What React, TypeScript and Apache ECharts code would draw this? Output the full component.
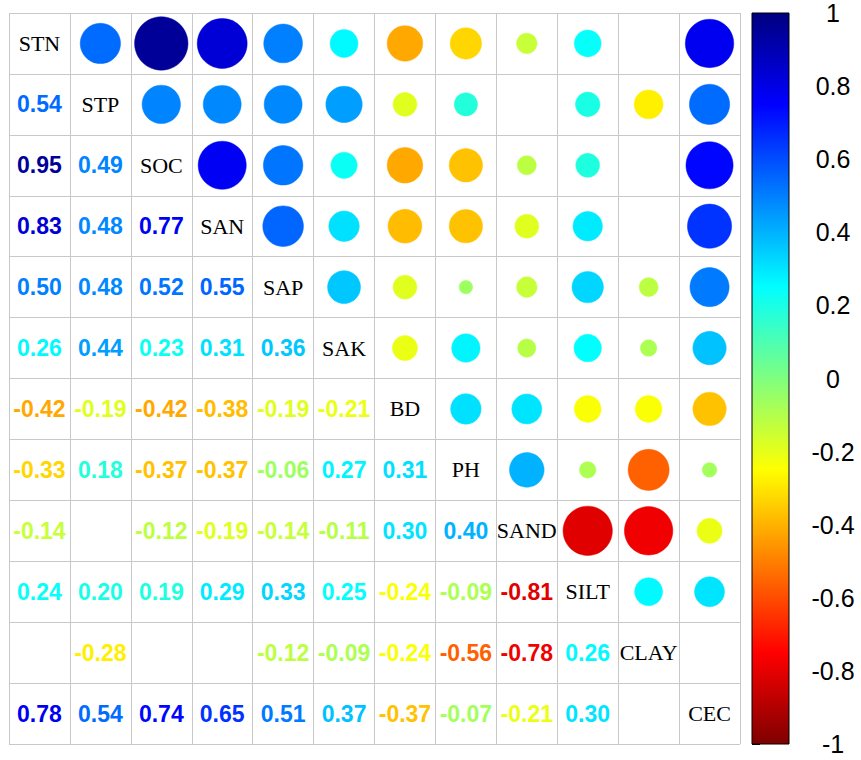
import React, { useEffect, useRef } from 'react';
import * as echarts from 'echarts';

const variables = ['STN', 'STP', 'SOC', 'SAN', 'SAP', 'SAK', 'BD', 'PH', 'SAND', 'SILT', 'CLAY', 'CEC'];

// lower-triangle correlations (row variable vs earlier variables); null = blank (not significant)
const rowSTN: (number | null)[] = [];
const rowSTP: (number | null)[] = [0.54];
const rowSOC: (number | null)[] = [0.95, 0.49];
const rowSAN: (number | null)[] = [0.83, 0.48, 0.77];
const rowSAP: (number | null)[] = [0.5, 0.48, 0.52, 0.55];
const rowSAK: (number | null)[] = [0.26, 0.44, 0.23, 0.31, 0.36];
const rowBD: (number | null)[] = [-0.42, -0.19, -0.42, -0.38, -0.19, -0.21];
const rowPH: (number | null)[] = [-0.33, 0.18, -0.37, -0.37, -0.06, 0.27, 0.31];
const rowSAND: (number | null)[] = [-0.14, null, -0.12, -0.19, -0.14, -0.11, 0.3, 0.4];
const rowSILT: (number | null)[] = [0.24, 0.2, 0.19, 0.29, 0.33, 0.25, -0.24, -0.09, -0.81];
const rowCLAY: (number | null)[] = [null, -0.28, null, null, -0.12, -0.09, -0.24, -0.56, -0.78, 0.26];
const rowCEC: (number | null)[] = [0.78, 0.54, 0.74, 0.65, 0.51, 0.37, -0.37, -0.07, -0.21, 0.3, null];

const lowerRows = [rowSTN, rowSTP, rowSOC, rowSAN, rowSAP, rowSAK, rowBD, rowPH, rowSAND, rowSILT, rowCLAY, rowCEC];

const palette = ['#7F0000', '#FF0000', '#FF7F00', '#FFFF00', '#7FFF7F', '#00FFFF', '#007FFF', '#0000FF', '#00007F'];

function hexToRgb(h: string) {
  return [parseInt(h.slice(1, 3), 16), parseInt(h.slice(3, 5), 16), parseInt(h.slice(5, 7), 16)];
}

function corrColor(r: number) {
  const t = Math.max(0, Math.min(8, ((r + 1) / 2) * 8));
  const i = Math.min(7, Math.floor(t));
  const f = t - i;
  const a = hexToRgb(palette[i]);
  const b = hexToRgb(palette[i + 1]);
  const c = a.map((v, k) => Math.round(v + (b[k] - v) * f));
  return `rgb(${c[0]},${c[1]},${c[2]})`;
}

export default function App() {
  const ref = useRef<HTMLDivElement>(null);
  useEffect(() => {
    document.body.style.margin = '0';
    const chart = echarts.init(ref.current!, null, { renderer: 'svg' });
    const circles: any[] = [];
    const numbers: any[] = [];
    lowerRows.forEach((row, i) =>
      row.forEach((r, j) => {
        if (r === null) return;
        const c = corrColor(r);
        numbers.push({ value: [j + 0.5, i + 0.5, r], label: { color: c } });
        circles.push({ value: [i + 0.5, j + 0.5, r], itemStyle: { color: c, borderColor: c } });
      })
    );
    const diag = variables.map((v, i) => ({ name: v, value: [i + 0.5, i + 0.5] }));
    const stops = palette.map((_, k) => ({ offset: k / 8, color: palette[8 - k] }));
    const gridLine = { show: true, lineStyle: { color: '#c8c8c8', width: 1 } };

    chart.setOption({
      animation: false,
      grid: [
        { left: 9, top: 13, width: 731, height: 731, show: false },
        { left: 752, top: 13, width: 37, height: 731, show: false },
      ],
      xAxis: [
        {
          gridIndex: 0, type: 'value', min: 0, max: 12, interval: 1,
          axisLine: { show: false }, axisTick: { show: false }, axisLabel: { show: false },
          splitLine: gridLine,
        },
        { gridIndex: 1, type: 'value', min: 0, max: 1, show: false },
      ],
      yAxis: [
        {
          gridIndex: 0, type: 'value', min: 0, max: 12, interval: 1, inverse: true,
          axisLine: { show: false }, axisTick: { show: false }, axisLabel: { show: false },
          splitLine: gridLine,
        },
        {
          gridIndex: 1, type: 'value', min: -1, max: 1, interval: 0.2, position: 'right',
          axisLine: { show: false },
          axisTick: { show: true, length: 8, lineStyle: { color: '#000', width: 1 } },
          axisLabel: {
            margin: 44, align: 'center', fontSize: 25, color: '#000',
            fontFamily: 'Liberation Sans, Arial, sans-serif',
            formatter: (v: number) => String(Math.round(v * 10) / 10),
          },
          splitLine: { show: false },
        },
      ],
      series: [
        {
          type: 'scatter', xAxisIndex: 0, yAxisIndex: 0, silent: true,
          data: circles,
          symbol: 'circle',
          symbolSize: (val: number[]) => 54.8 * Math.sqrt(Math.abs(val[2])),
          itemStyle: { borderWidth: 0.5, opacity: 1 },
        },
        {
          type: 'scatter', xAxisIndex: 0, yAxisIndex: 0, silent: true,
          data: numbers,
          symbol: 'circle', symbolSize: 1,
          itemStyle: { color: 'rgba(0,0,0,0)', opacity: 1 },
          label: {
            show: true, position: 'inside',
            formatter: (p: any) => (p.value[2] as number).toFixed(2),
            fontSize: 23, fontWeight: 'bold', fontFamily: 'Liberation Sans, Arial, sans-serif',
            textBorderWidth: 0,
          },
        },
        {
          type: 'scatter', xAxisIndex: 0, yAxisIndex: 0, silent: true,
          data: diag,
          symbol: 'circle', symbolSize: 1,
          itemStyle: { color: 'rgba(0,0,0,0)', opacity: 1 },
          label: {
            show: true, position: 'inside', formatter: '{b}',
            fontSize: 22, color: '#000', fontFamily: 'Liberation Serif, Times New Roman, serif',
            textBorderWidth: 0,
          },
        },
        {
          type: 'custom', xAxisIndex: 1, yAxisIndex: 1, silent: true,
          data: [[0, -1]],
          renderItem: (_params: any, api: any) => {
            const tl = api.coord([0, 1]);
            const br = api.coord([1, -1]);
            return {
              type: 'rect',
              shape: { x: tl[0], y: tl[1], width: br[0] - tl[0], height: br[1] - tl[1] },
              style: {
                fill: new echarts.graphic.LinearGradient(0, 0, 0, 1, stops),
                stroke: '#000', lineWidth: 1,
              },
            };
          },
        },
      ],
    });
    return () => chart.dispose();
  }, []);
  return <div ref={ref} style={{ width: 861, height: 760 }} />;
}
